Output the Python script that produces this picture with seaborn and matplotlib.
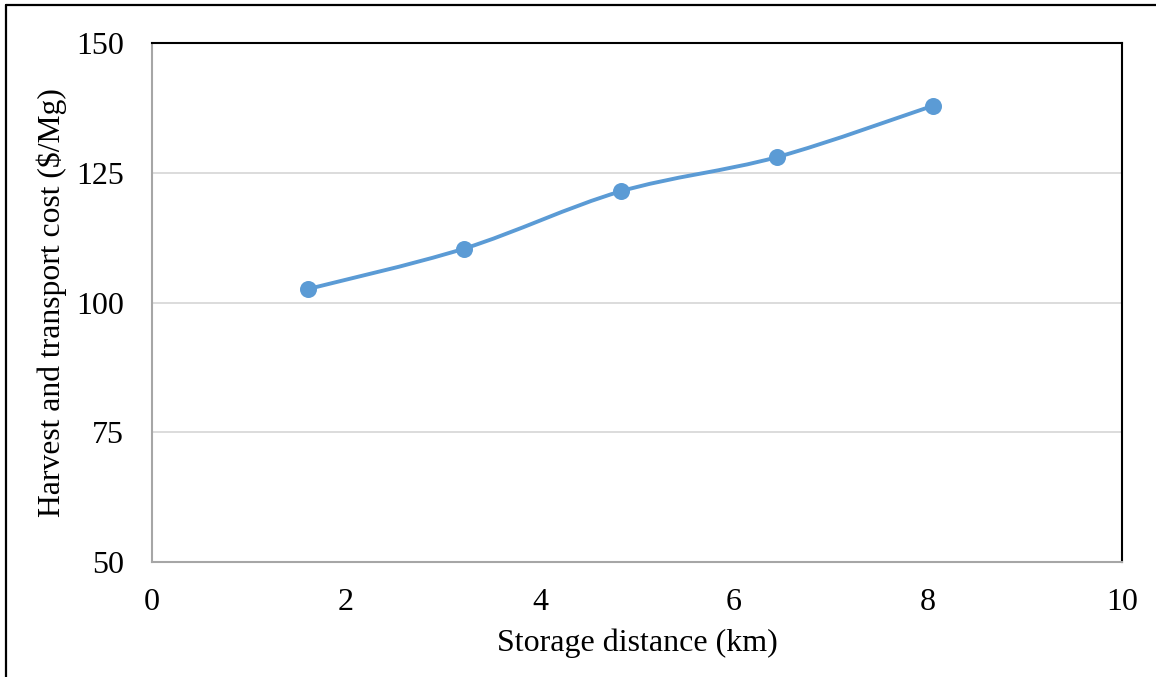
import matplotlib
matplotlib.use("Agg")
import matplotlib.pyplot as plt
from matplotlib.path import Path
from matplotlib.patches import PathPatch
from matplotlib.lines import Line2D
import seaborn as sns
import pandas as pd
import numpy as np

# Data
distance_km = [1.61, 3.22, 4.83, 6.44, 8.05]
cost_per_mg = [102.6, 110.4, 121.4, 128.0, 137.9]
x_ticks = [0, 2, 4, 6, 8, 10]
y_ticks = [50, 75, 100, 125, 150]
x_label = "Storage distance (km)"
y_label = "Harvest and transport cost ($/Mg)"

sns.set_theme(style="white")
plt.rcParams['font.family'] = ['Liberation Serif', 'DejaVu Serif']
plt.rcParams['mathtext.default'] = 'regular'

color = "#5B9BD5"
df = pd.DataFrame({"x": distance_km, "y": cost_per_mg})

W, H = 1156, 677
fig = plt.figure(figsize=(W / 100, H / 100), dpi=100)
ax = fig.add_axes([152/W, 1-562/H, (1122-152)/W, (562-43)/H])

# Smoothed line (Bezier path through data points, like Excel smoothing)
pts = np.column_stack([distance_km, cost_per_mg])
verts = [tuple(pts[0])]
codes = [Path.MOVETO]
n = len(pts)
for i in range(n - 1):
    p0 = pts[i - 1] if i > 0 else pts[i]
    p1 = pts[i]
    p2 = pts[i + 1]
    p3 = pts[i + 2] if i + 2 < n else pts[i + 1]
    c1 = p1 + (p2 - p0) / 6.0
    c2 = p2 - (p3 - p1) / 6.0
    verts += [tuple(c1), tuple(c2), tuple(p2)]
    codes += [Path.CURVE4] * 3
ax.add_patch(PathPatch(Path(verts, codes), facecolor="none", edgecolor=color,
                       lw=2.8, zorder=3, capstyle="round"))

sns.scatterplot(data=df, x="x", y="y", ax=ax, color=color, s=150,
                edgecolor=color, linewidth=0, zorder=4, legend=False)

ax.set_xlim(0, 10)
ax.set_ylim(50, 150)
ax.set_xticks(x_ticks)
ax.set_yticks(y_ticks)
ax.set_xticklabels([str(t) for t in x_ticks])
ax.set_yticklabels([str(t) for t in y_ticks])
ax.tick_params(axis="both", labelsize=23, colors="black", length=0)
ax.tick_params(axis="x", pad=19)
ax.tick_params(axis="y", pad=20)

ax.yaxis.grid(True, color="#D9D9D9", lw=1.3)
ax.xaxis.grid(False)
ax.set_axisbelow(True)

for s in ["left", "bottom"]:
    ax.spines[s].set_color("#A6A6A6")
    ax.spines[s].set_linewidth(1.5)
for s in ["top", "right"]:
    ax.spines[s].set_color("black")
    ax.spines[s].set_linewidth(1.5)

ax.set_xlabel(x_label, fontsize=23, color="black", labelpad=8)
ax.set_ylabel(y_label, fontsize=22.8, color="black")
ax.yaxis.set_label_coords(-85/970, 0.5)

# Outer frame (top and left edges only visible)
fig.add_artist(Line2D([6/W, 1], [1-5/H, 1-5/H], transform=fig.transFigure,
                      color="black", lw=1.6))
fig.add_artist(Line2D([6/W, 6/W], [0, 1-5/H], transform=fig.transFigure,
                      color="black", lw=1.6))

fig.savefig("out.png", dpi=100, facecolor="white")
